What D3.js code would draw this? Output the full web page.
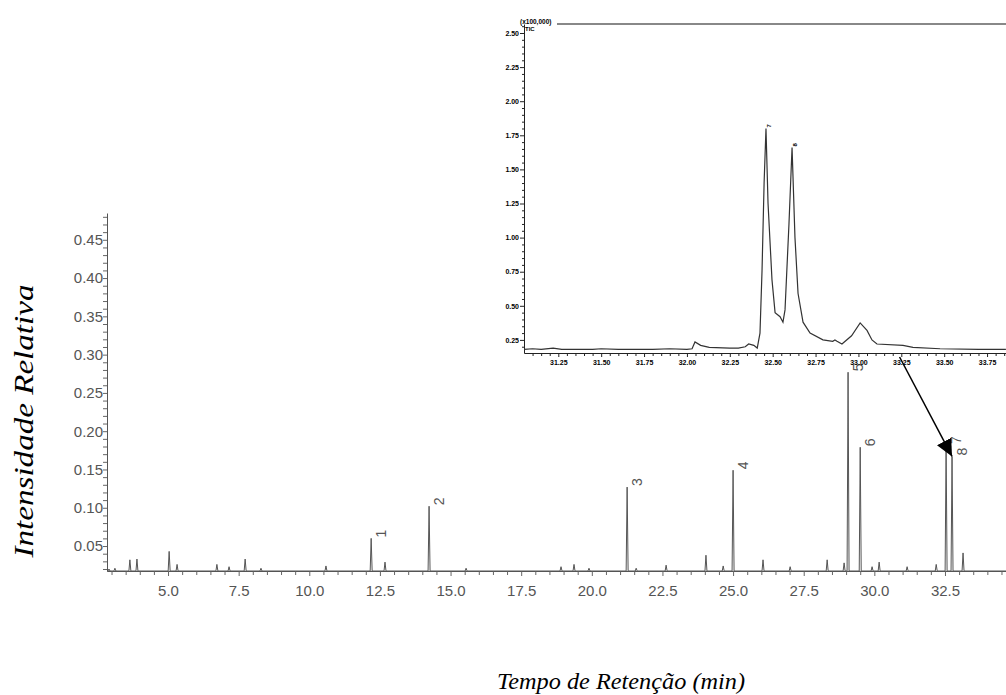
<!DOCTYPE html>
<html>
<head>
<meta charset="utf-8">
<script src="https://cdn.jsdelivr.net/npm/d3@7"></script>
<style>
  body { margin: 0; background: #fff; }
  svg { display: block; }
</style>
</head>
<body>
<svg id="chart" width="1006" height="695"></svg>
<script>
// main chromatogram: peak retention times (min), relative intensities, labels
var peakTimes = [2.91, 3.12, 3.65, 3.90, 5.04, 5.32, 6.73, 7.16, 7.73, 8.29, 10.59,
                 12.19, 12.68, 14.24, 15.55, 18.91, 19.37, 19.90, 21.25, 21.57, 22.63,
                 24.04, 24.65, 25.00, 26.06, 27.02, 28.33, 28.93, 29.07, 29.50, 29.92,
                 30.17, 31.16, 32.19, 32.54, 32.75, 33.14];
var peakHeights = [0.020, 0.021, 0.032, 0.033, 0.043, 0.026, 0.026, 0.023, 0.033, 0.021, 0.024,
                   0.060, 0.029, 0.102, 0.021, 0.023, 0.026, 0.021, 0.127, 0.021, 0.025,
                   0.038, 0.024, 0.149, 0.032, 0.023, 0.032, 0.028, 0.277, 0.179, 0.023,
                   0.029, 0.023, 0.026, 0.182, 0.167, 0.041];
var peakLabels = ["", "", "", "", "", "", "", "", "", "", "",
                  "1", "", "2", "", "", "", "", "3", "", "",
                  "", "", "4", "", "", "", "", "5", "6", "",
                  "", "", "", "7", "8", ""];
var baseline = 0.0174;
var xTicks = [5.0, 7.5, 10.0, 12.5, 15.0, 17.5, 20.0, 22.5, 25.0, 27.5, 30.0, 32.5];
var yTicks = [0.05, 0.10, 0.15, 0.20, 0.25, 0.30, 0.35, 0.40, 0.45];

// inset: TIC (x100,000) between 31 and 34 min
var insetTimes = [31.05, 31.10, 31.15, 31.22, 31.27, 31.45, 31.50, 31.60, 31.80, 31.90,
                  32.00, 32.03, 32.047, 32.08, 32.13, 32.25, 32.30, 32.34, 32.36, 32.39,
                  32.41, 32.426, 32.438, 32.45, 32.461, 32.473, 32.496, 32.514, 32.543, 32.56,
                  32.572, 32.595, 32.613, 32.63, 32.648, 32.677, 32.718, 32.793, 32.85, 32.863,
                  32.875, 32.904, 32.96, 33.01, 33.05, 33.079, 33.108, 33.26, 33.318, 33.476,
                  33.70, 33.86];
var insetValues = [0.18, 0.185, 0.18, 0.19, 0.18, 0.18, 0.185, 0.18, 0.18, 0.185,
                   0.18, 0.185, 0.235, 0.21, 0.195, 0.19, 0.19, 0.20, 0.22, 0.21,
                   0.19, 0.30, 0.76, 1.40, 1.80, 1.25, 0.69, 0.45, 0.42, 0.38,
                   0.47, 1.10, 1.66, 1.00, 0.59, 0.38, 0.30, 0.25, 0.24, 0.25,
                   0.24, 0.22, 0.28, 0.375, 0.32, 0.25, 0.22, 0.21, 0.195, 0.185,
                   0.18, 0.18];
var insetLabelTimes = [32.461, 32.613];
var insetLabelValues = [1.80, 1.66];
var insetLabels = ["7", "8"];
var insetXTicks = [31.25, 31.50, 31.75, 32.00, 32.25, 32.50, 32.75, 33.00, 33.25, 33.50, 33.75];
var insetYTicks = [0.25, 0.50, 0.75, 1.00, 1.25, 1.50, 1.75, 2.00, 2.25, 2.50];

var svg = d3.select("#chart");

// ---------- main chart ----------
var x = d3.scaleLinear().domain([2.84, 34.66]).range([107, 1006]);
var y = d3.scaleLinear().domain([baseline, 0.485]).range([571, 213]);

var xMinor = d3.range(3.0, 34.6, 0.5).filter(function (t) { return Math.abs((t / 2.5) - Math.round(t / 2.5)) > 1e-6; });
var yMinor = d3.range(0.02, 0.485, 0.01).filter(function (v) { return Math.abs((v / 0.05) - Math.round(v / 0.05)) > 1e-6; });

svg.append("g")
    .attr("transform", "translate(0,571)")
    .call(d3.axisBottom(x).tickValues(xTicks).tickFormat(d3.format(".1f"))
        .tickSize(5).tickSizeOuter(0).tickPadding(9));
svg.append("g")
    .attr("transform", "translate(0,571)")
    .call(d3.axisBottom(x).tickValues(xMinor).tickFormat("").tickSize(4).tickSizeOuter(0))
    .select(".domain").remove();

svg.append("g")
    .attr("transform", "translate(107,0)")
    .call(d3.axisLeft(y).tickValues(yTicks).tickFormat(d3.format(".2f"))
        .tickSize(4).tickSizeOuter(0).tickPadding(0));
svg.append("g")
    .attr("transform", "translate(107,0)")
    .call(d3.axisLeft(y).tickValues(yMinor).tickFormat("").tickSize(4).tickSizeOuter(0))
    .select(".domain").remove();

svg.selectAll(".tick line").attr("stroke", "#666");
svg.selectAll(".domain").attr("stroke", "#555");
svg.selectAll(".tick text")
    .attr("fill", "#555")
    .style("font-family", "'Liberation Sans', Arial, sans-serif")
    .style("font-size", "15px");

// chromatogram trace built from the peak list
var trace = [[x.domain()[0], baseline]];
var halfWidth = 0.035;
peakTimes.forEach(function (t, i) {
    trace.push([t - halfWidth, baseline]);
    trace.push([t, peakHeights[i]]);
    trace.push([t + halfWidth, baseline]);
});
trace.push([x.domain()[1], baseline]);

var line = d3.line()
    .x(function (d) { return x(d[0]); })
    .y(function (d) { return y(d[1]); });

svg.append("path")
    .datum(trace)
    .attr("fill", "none")
    .attr("stroke", "#555")
    .attr("stroke-width", 1)
    .attr("d", line);

// peak numbers
svg.selectAll(".peak-label")
    .data(peakTimes.map(function (t, i) { return { t: t, v: peakHeights[i], label: peakLabels[i] }; })
        .filter(function (d) { return d.label !== ""; }))
    .enter().append("text")
    .attr("class", "peak-label")
    .attr("transform", function (d) { return "translate(" + (x(d.t) + 15) + "," + (y(d.v) - 1) + ") rotate(-90)"; })
    .attr("fill", "#555")
    .style("font-family", "'Liberation Sans', Arial, sans-serif")
    .style("font-size", "14px")
    .text(function (d) { return d.label; });

// axis titles
svg.append("text")
    .attr("transform", "translate(33,421) rotate(-90)")
    .attr("text-anchor", "middle")
    .attr("textLength", 273)
    .attr("lengthAdjust", "spacingAndGlyphs")
    .style("font-family", "'Liberation Serif', 'Times New Roman', serif")
    .style("font-style", "italic")
    .style("font-size", "27px")
    .text("Intensidade Relativa");

svg.append("text")
    .attr("x", 621)
    .attr("y", 689)
    .attr("text-anchor", "middle")
    .attr("textLength", 248)
    .attr("lengthAdjust", "spacingAndGlyphs")
    .style("font-family", "'Liberation Serif', 'Times New Roman', serif")
    .style("font-style", "italic")
    .style("font-size", "24px")
    .text("Tempo de Retenção (min)");

// ---------- inset ----------
var xi = d3.scaleLinear().domain([31.05, 31.05 + 482 / 171.5]).range([524, 1006]);
var yi = d3.scaleLinear().domain([0.154, 2.566]).range([353, 24]);

var inset = svg.append("g").attr("class", "inset");
inset.append("rect")
    .attr("x", 524).attr("y", 24)
    .attr("width", 1006 - 524).attr("height", 353 - 24)
    .attr("fill", "#fff");

inset.append("line")
    .attr("x1", 557).attr("x2", 1006)
    .attr("y1", 24).attr("y2", 24)
    .attr("stroke", "#888")
    .attr("stroke-width", 2);

var ixMinor = d3.range(31.10, 33.86, 0.05).filter(function (t) { return Math.abs((t / 0.25) - Math.round(t / 0.25)) > 1e-6; });
var iyMinor = d3.range(0.20, 2.56, 0.05).filter(function (v) { return Math.abs((v / 0.25) - Math.round(v / 0.25)) > 1e-6; });

inset.append("g")
    .attr("transform", "translate(0,353)")
    .call(d3.axisBottom(xi).tickValues(insetXTicks).tickFormat(d3.format(".2f"))
        .tickSize(4).tickSizeOuter(0).tickPadding(3));
inset.append("g")
    .attr("transform", "translate(0,353)")
    .call(d3.axisBottom(xi).tickValues(ixMinor).tickFormat("").tickSize(3).tickSizeOuter(0))
    .select(".domain").remove();
inset.append("g")
    .attr("transform", "translate(524,0)")
    .call(d3.axisLeft(yi).tickValues(insetYTicks).tickFormat(d3.format(".2f"))
        .tickSize(4).tickSizeOuter(0).tickPadding(1));
inset.append("g")
    .attr("transform", "translate(524,0)")
    .call(d3.axisLeft(yi).tickValues(iyMinor).tickFormat("").tickSize(2).tickSizeOuter(0))
    .select(".domain").remove();

inset.selectAll(".tick line").attr("stroke", "#222");
inset.selectAll(".domain").attr("stroke", "#222");
inset.selectAll(".tick text")
    .attr("fill", "#000")
    .style("font-family", "'Liberation Sans', Arial, sans-serif")
    .style("font-weight", "bold")
    .style("font-size", "7px");

var iline = d3.line()
    .x(function (d, i) { return xi(insetTimes[i]); })
    .y(function (d, i) { return yi(insetValues[i]); });

inset.append("path")
    .datum(insetTimes)
    .attr("fill", "none")
    .attr("stroke", "#333")
    .attr("stroke-width", 1.2)
    .attr("d", iline);

inset.selectAll(".inset-label")
    .data(insetLabels)
    .enter().append("text")
    .attr("transform", function (d, i) {
        return "translate(" + (xi(insetLabelTimes[i]) + 5) + "," + (yi(insetLabelValues[i]) - 1) + ") rotate(-90)";
    })
    .style("font-family", "'Liberation Sans', Arial, sans-serif")
    .style("font-weight", "bold")
    .style("font-size", "6px")
    .text(function (d) { return d; });

inset.append("text")
    .attr("x", 520).attr("y", 24)
    .style("font-family", "'Liberation Sans', Arial, sans-serif")
    .style("font-weight", "bold")
    .style("font-size", "6.5px")
    .text("(x100,000)");
inset.append("text")
    .attr("x", 525).attr("y", 31)
    .style("font-family", "'Liberation Sans', Arial, sans-serif")
    .style("font-weight", "bold")
    .style("font-size", "6px")
    .text("TIC");

// arrow from the inset down to peaks 7/8
svg.append("defs").append("marker")
    .attr("id", "arrowhead")
    .attr("markerUnits", "userSpaceOnUse")
    .attr("markerWidth", 18).attr("markerHeight", 18)
    .attr("refX", 17).attr("refY", 8)
    .attr("orient", "auto")
    .append("path")
    .attr("d", "M0,0 L17,8 L0,16 Z")
    .attr("fill", "#000");

svg.append("line")
    .attr("x1", xi(33.24)).attr("y1", 357)
    .attr("x2", x(32.75)).attr("y2", y(0.167))
    .attr("stroke", "#000")
    .attr("stroke-width", 1.5)
    .attr("marker-end", "url(#arrowhead)");
</script>
</body>
</html>
